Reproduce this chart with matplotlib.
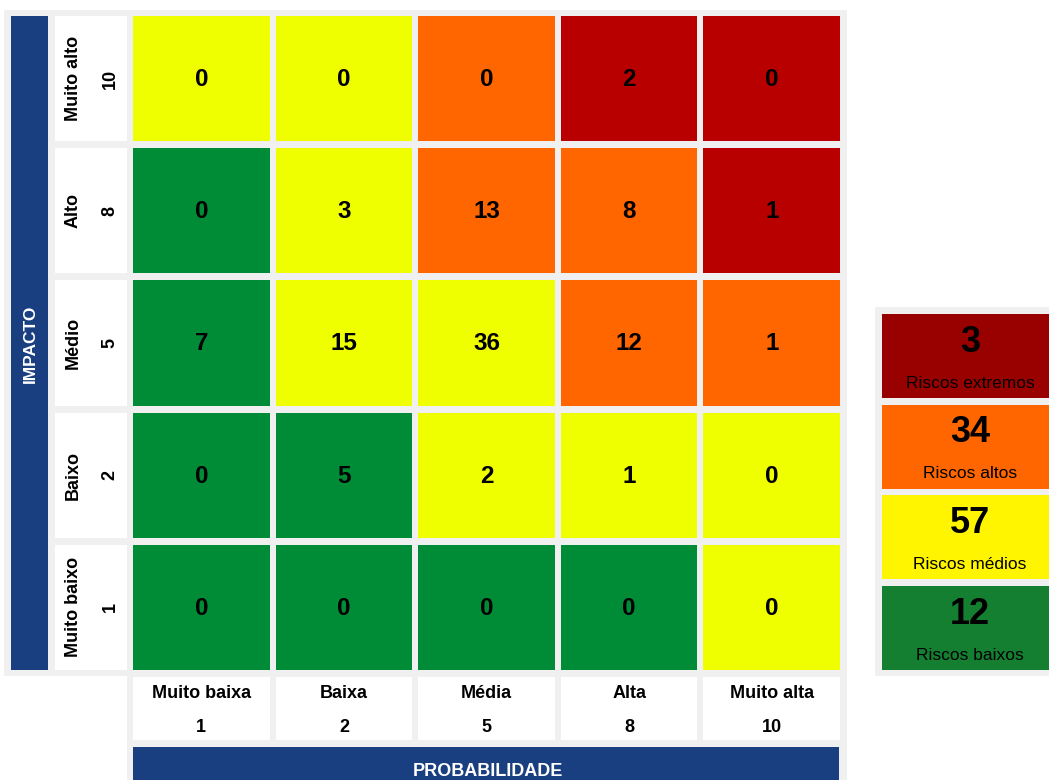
import numpy as np
import matplotlib
matplotlib.use("Agg")
import matplotlib.pyplot as plt
from matplotlib.patches import Rectangle

plt.rcParams['font.family'] = ['Liberation Sans', 'DejaVu Sans']

# --- Data ---
impact_names = ["Muito alto", "Alto", "Médio", "Baixo", "Muito baixo"]
impact_values = [10, 8, 5, 2, 1]
prob_names = ["Muito baixa", "Baixa", "Média", "Alta", "Muito alta"]
prob_values = [1, 2, 5, 8, 10]

counts = [
    [0, 0, 0, 2, 0],
    [0, 3, 13, 8, 1],
    [7, 15, 36, 12, 1],
    [0, 5, 2, 1, 0],
    [0, 0, 0, 0, 0],
]

level_labels = ["Riscos extremos", "Riscos altos", "Riscos médios", "Riscos baixos"]
cell_colors = ["#b80000", "#ff6600", "#f0ff00", "#008c37"]
legend_colors = ["#990000", "#ff6600", "#fff500", "#157f31"]
blue = "#1a3f80"
panel = "#f0f0f0"


def level(score):
    # 0 extreme, 1 high, 2 medium, 3 low
    if score >= 80:
        return 0
    if score >= 40:
        return 1
    if score >= 10:
        return 2
    return 3


counts = np.array(counts)
levels = np.array([[level(i * p) for p in prob_values] for i in impact_values])
totals = [counts[levels == k].sum() for k in range(4)]

# --- Figure in pixel coordinates ---
fig = plt.figure(figsize=(10.49, 7.80), dpi=100)
ax = fig.add_axes([0, 0, 1, 1])
ax.set_xlim(0, 1049)
ax.set_ylim(780, 0)
ax.axis("off")

X0, PX, GX = 130, 142.6, 3     # grid left, column pitch, half gap
Y0, PY, GY = 12.5, 132.2, 3.5  # grid top, row pitch, half gap

# background panels
ax.add_patch(Rectangle((4, 10), 843, 666, color=panel, lw=0))
ax.add_patch(Rectangle((127, 676), 720, 110, color=panel, lw=0))
ax.add_patch(Rectangle((875, 307), 180, 369, color=panel, lw=0))

# IMPACTO bar
ax.add_patch(Rectangle((11, 16), 37, 654, color=blue, lw=0))
ax.text(30, 344, "IMPACTO", rotation=90, ha="center", va="center",
        color="white", fontsize=12.5, fontweight="bold")

# PROBABILIDADE bar
ax.add_patch(Rectangle((133, 747), 706, 40, color=blue, lw=0))
ax.text(488, 771, "PROBABILIDADE", ha="center", va="center",
        color="white", fontsize=13, fontweight="bold")

# matrix cells
for i in range(5):
    for j in range(5):
        x = X0 + j * PX + GX
        y = Y0 + i * PY + GY
        ax.add_patch(Rectangle((x, y), PX - 2 * GX, PY - 2 * GY,
                               color=cell_colors[levels[i, j]], lw=0))
        ax.text(x + (PX - 2 * GX) / 2, y + (PY - 2 * GY) / 2 + 1, str(counts[i, j]),
                ha="center", va="center", fontsize=17.5, fontweight="bold")

# impact labels
for i in range(5):
    y = Y0 + i * PY + GY
    h = PY - 2 * GY
    ax.add_patch(Rectangle((55, y), 72, h, color="white", lw=0))
    ax.text(73, y + h / 2, impact_names[i], rotation=90, ha="center",
            va="center", fontsize=13, fontweight="bold")
    ax.text(110, y + h / 2, str(impact_values[i]), rotation=90, ha="center",
            va="center", fontsize=13, fontweight="bold")

# probability labels
for j in range(5):
    x = X0 + j * PX + GX
    w = PX - 2 * GX
    ax.add_patch(Rectangle((x, 677), w, 63, color="white", lw=0))
    ax.text(x + w / 2, 693, prob_names[j], ha="center", va="center",
            fontsize=13, fontweight="bold")
    ax.text(x + w / 2, 727, str(prob_values[j]), ha="center", va="center",
            fontsize=13, fontweight="bold")

# summary legend
LY0, LPY = 314, 90.7
for k in range(4):
    y = LY0 + k * LPY
    ax.add_patch(Rectangle((882, y), 170, 84, color=legend_colors[k], lw=0))
    ax.text(970, y + 28, str(totals[k]), ha="center", va="center",
            fontsize=26, fontweight="bold")
    ax.text(970, y + 69, level_labels[k], ha="center", va="center",
            fontsize=12.5)

fig.savefig("out.png", dpi=100)
